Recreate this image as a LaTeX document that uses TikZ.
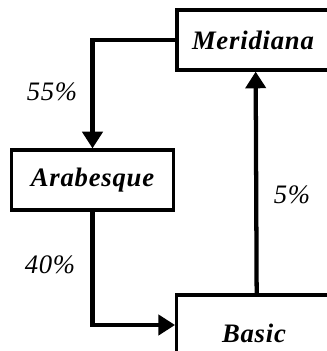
\documentclass[tikz,border=0pt]{standalone}
\usepackage{fontspec}
\setmainfont{Liberation Serif}
\usetikzlibrary{arrows.meta,positioning}

\begin{document}
\begin{tikzpicture}[x=0.75pt,y=-0.75pt,
box/.style={
rectangle,
draw,
line width=2.4pt,
inner sep=0pt,
font=\fontsize{20}{24}\selectfont\bfseries\itshape\addfontfeatures{LetterSpace=3}
},
to/.style={-{Triangle[length=12.5pt,width=15pt]},line width=3.2pt},
pct/.style={font=\fontsize{20}{24}\selectfont\itshape\addfontfeatures{LetterSpace=3}},
]
\useasboundingbox (0,0) rectangle (327,351);
\clip (0,0) rectangle (327,351);
\node (meridiana) [box,minimum width=114pt,minimum height=45pt] at (253,40) {Meridiana};
\node (arabesque) [box,minimum width=121pt,minimum height=45pt] at (92.5,180) {Arabesque};
\node (basic) [box,minimum width=116pt,minimum height=57pt] at (254,333) {Basic};
\node (p55) [pct] at (52,92) {55\%};
\node (p40) [pct] at (50,265) {40\%};
\node (p5) [pct] at (292,195) {5\%};
\draw[to] (meridiana.west) -| (arabesque.north);
\draw[to] (arabesque.south) |- ([yshift=6pt]basic.west);
\draw[to] ([xshift=2pt]basic.north) -- ([xshift=2pt]meridiana.south);
\end{tikzpicture}
\end{document}
